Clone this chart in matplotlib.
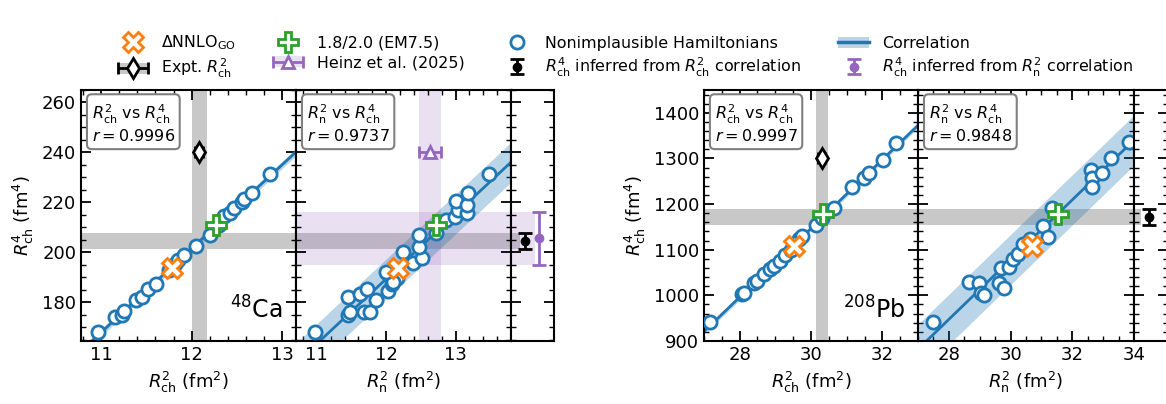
import numpy as np
import matplotlib
matplotlib.use("Agg")
import matplotlib.pyplot as plt
from matplotlib.patches import Patch
from matplotlib.lines import Line2D
from matplotlib.container import ErrorbarContainer
from matplotlib.legend_handler import HandlerTuple, HandlerErrorbar
from matplotlib.ticker import MultipleLocator, AutoMinorLocator

BLUE, ORANGE, GREEN, PURPLE = "#1f77b4", "#ff7f0e", "#2ca02c", "#9467bd"
GREY = "#c8c8c8"

# ---- 48Ca ----
ca_rch2 = [10.97, 11.15, 11.23, 11.25, 11.39, 11.45, 11.52, 11.61, 11.75, 11.82, 11.85,
           11.92, 12.05, 12.20, 12.30, 12.36, 12.42, 12.47, 12.55, 12.58, 12.66, 12.86]
ca_r4_a = [168.0, 174.0, 174.9, 176.5, 180.9, 182.2, 185.3, 187.4, 193.0, 195.5, 196.9,
           198.9, 202.4, 207.0, 211.0, 214.6, 215.8, 217.6, 220.2, 221.2, 223.6, 231.2]
ca_rn2 = [10.97, 11.45, 11.48, 11.68, 11.76, 11.45, 11.62, 11.72, 11.85, 12.03, 12.08,
          12.01, 12.15, 12.10, 12.00, 12.24, 12.39, 12.51, 12.48, 12.48, 12.72, 12.87,
          12.99, 13.04, 13.00, 13.16, 13.16, 13.18, 13.48]
ca_r4_b = [168.0, 174.9, 176.2, 176.2, 176.2, 182.2, 183.2, 185.3, 180.9, 184.5, 187.2,
           191.6, 189.6, 188.2, 192.2, 200.2, 195.6, 197.6, 202.2, 207.0, 207.6, 212.9,
           214.2, 216.9, 220.6, 215.6, 219.0, 223.6, 231.2]
ca_nnlo = (11.78, 12.17, 193.8)      # R2ch, R2n, R4ch
ca_em = (12.27, 12.72, 210.8)
ca_expt_r2 = (12.08, 0.04, 12.0, 12.17)
ca_heinz_rn2 = (12.635, 0.155)
ca_inf_ch = (204.5, 3.3)
ca_inf_n = (205.6, 10.6)
ca_r_vals = ("0.9996", "0.9737")
ca_band = (1.5, 8.0)

# ---- 208Pb ----
pb_rch2 = [27.17, 28.06, 28.13, 28.39, 28.48, 28.67, 28.86, 28.95, 29.14, 29.28, 29.45,
           29.66, 29.75, 30.13, 30.30, 30.64, 31.16, 31.49, 31.63, 32.01, 32.38]
pb_r4_a = [942, 1002, 1006, 1026, 1032, 1047, 1058, 1065, 1076, 1089, 1100,
           1124, 1131, 1154, 1170, 1192, 1238, 1257, 1268, 1297, 1334]
pb_rn2 = [27.50, 28.65, 28.98, 29.03, 29.14, 29.63, 29.80, 29.69, 29.96, 30.07, 30.24,
          30.40, 30.62, 31.06, 31.22, 31.35, 32.61, 32.64, 32.64, 32.97, 33.27, 33.84]
pb_r4_b = [942, 1030, 1027, 1006, 1000, 1028, 1017, 1059, 1063, 1080, 1091,
           1113, 1124, 1151, 1128, 1192, 1275, 1257, 1238, 1268, 1301, 1336]
pb_nnlo = (29.52, 30.70, 1108)
pb_em = (30.34, 31.55, 1179)
pb_expt_r2 = (30.30, 0.10, 30.13, 30.49)
pb_inf_ch = (1172, 17)
pb_r_vals = ("0.9997", "0.9848")
pb_band = (6.0, 55.0)

W, H = 1166, 404
fig = plt.figure(figsize=(W / 100, H / 100), dpi=100)


def add_ax(x0, x1):
    ax = fig.add_axes([x0 / W, (H - 341) / H, (x1 - x0) / W, 251 / H])
    for s in ax.spines.values():
        s.set_linewidth(1.5)
    ax.tick_params(which="both", direction="in", top=True, right=True, labelsize=13)
    ax.tick_params(which="major", length=7, width=1.3)
    ax.tick_params(which="minor", length=3.5, width=1)
    return ax


def corr(ax, xs, ys, band):
    # linear fit through the Hamiltonians, drawn across the whole panel
    k, b = np.polyfit(xs, ys, 1)
    xl = np.array(ax.get_xlim())
    ax.fill_between(xl, k * xl + b - band, k * xl + b + band, color=BLUE, alpha=0.3, lw=0, zorder=2)
    ax.plot(xl, k * xl + b, color=BLUE, lw=2, zorder=2.5)
    ax.set_xlim(xl)
    ax.plot(xs, ys, "o", ms=9.5, mfc="white", mec=BLUE, mew=2, zorder=3)


def rbox(ax, label, r):
    ax.text(0.05, 0.95, label + "\n" + r"$r = $" + r, transform=ax.transAxes, fontsize=11.5,
            va="top", ha="left", zorder=10,
            bbox=dict(boxstyle="round,pad=0.3", fc="white", ec="gray", lw=1.5))


rch_lab = r"$R^2_{\rm ch}$ (fm$^2$)"
rn_lab = r"$R^2_{\rm n}$ (fm$^2$)"
r4_lab = r"$R^4_{\rm ch}$ (fm$^4$)"
box_ch = r"$R^2_{\rm ch}$ vs $R^4_{\rm ch}$"
box_n = r"$R^2_{\rm n}$ vs $R^4_{\rm ch}$"

handles = {}


def nucleus(x0, xlims, ylim, ystep, xstep, d, name):
    (rch2, r4a, rn2, r4b, nnlo, em, expt, heinz, inf_ch, inf_n, rv, band, hband, y_expt) = d
    a1 = add_ax(x0[0], x0[1])
    a2 = add_ax(x0[1], x0[2])
    a3 = add_ax(x0[2], x0[3])
    for a, xl in zip((a1, a2), xlims):
        a.set_xlim(xl)
        a.set_ylim(ylim)
        a.xaxis.set_major_locator(MultipleLocator(xstep))
        a.xaxis.set_minor_locator(AutoMinorLocator())
        a.yaxis.set_major_locator(MultipleLocator(ystep))
        a.yaxis.set_minor_locator(AutoMinorLocator())
    a3.set_xlim(0, 1)
    a3.set_ylim(ylim)
    a3.set_xticks([])
    a3.yaxis.set_major_locator(MultipleLocator(ystep))
    a3.yaxis.set_minor_locator(AutoMinorLocator())
    a2.tick_params(labelleft=False)
    a3.tick_params(labelleft=False)

    # bands
    for a in (a1, a2):
        a.axhspan(hband[0], hband[1], color=GREY, lw=0, zorder=0)
    a3.axhspan(hband[0], hband[1], xmax=0.22, color=GREY, lw=0, zorder=0)
    a1.axvspan(expt[2], expt[3], color=GREY, lw=0, zorder=0)
    if heinz is not None:
        a2.axvspan(heinz[0] - heinz[1], heinz[0] + heinz[1], color=PURPLE, alpha=0.2, lw=0, zorder=1)
        a2.axhspan(inf_n[0] - inf_n[1], inf_n[0] + inf_n[1], color=PURPLE, alpha=0.2, lw=0, zorder=1)
        a3.axhspan(inf_n[0] - inf_n[1], inf_n[0] + inf_n[1], xmax=0.55, color=PURPLE, alpha=0.2, lw=0, zorder=1)

    corr(a1, rch2, r4a, band[0])
    corr(a2, rn2, r4b, band[1])

    for a, xi in ((a1, 0), (a2, 1)):
        a.plot(nnlo[xi], nnlo[2], "X", ms=14, mfc="white", mec=ORANGE, mew=2, zorder=6)
        a.plot(em[xi], em[2], "P", ms=14, mfc="white", mec=GREEN, mew=2, zorder=6)

    eb = a1.errorbar(expt[0], y_expt, xerr=expt[1], fmt="d", ms=10, mfc="white", mec="k", mew=2,
                     color="k", elinewidth=2, capsize=4, capthick=2, zorder=6)
    handles["expt"] = eb
    if heinz is not None:
        hb = a2.errorbar(heinz[0], y_expt, xerr=heinz[1], fmt="^", ms=9, mfc="white", mec=PURPLE,
                         mew=2, color=PURPLE, elinewidth=2, capsize=4, capthick=2, zorder=6)
        handles["heinz"] = hb
        pb_ = a3.errorbar(0.65, inf_n[0], yerr=inf_n[1], fmt="o", ms=6, color=PURPLE,
                          elinewidth=2, capsize=5, capthick=2, zorder=6)
        handles["infn"] = pb_
    bx = 0.33 if heinz is not None else 0.44
    cb = a3.errorbar(bx, inf_ch[0], yerr=inf_ch[1], fmt="o", ms=6, color="k",
                     elinewidth=2, capsize=5, capthick=2, zorder=6)
    handles["infch"] = cb

    rbox(a1, box_ch, rv[0])
    rbox(a2, box_n, rv[1])
    a1.text(0.94, 0.07, name, transform=a1.transAxes, fontsize=17, ha="right", va="bottom")
    a1.set_xlabel(rch_lab, fontsize=13)
    a2.set_xlabel(rn_lab, fontsize=13)
    a1.set_ylabel(r4_lab, fontsize=13)


ca_data = (ca_rch2, ca_r4_a, ca_rn2, ca_r4_b, ca_nnlo, ca_em, ca_expt_r2, ca_heinz_rn2,
           ca_inf_ch, ca_inf_n, ca_r_vals, ca_band, (201.3, 207.8), 240)
nucleus((81, 296, 511, 554), ((10.78, 13.15), (10.7, 13.8)), (164.5, 265), 20, 1, ca_data,
        r"$^{48}$Ca")

pb_data = (pb_rch2, pb_r4_a, pb_rn2, pb_r4_b, pb_nnlo, pb_em, pb_expt_r2, None,
           pb_inf_ch, None, pb_r_vals, pb_band, (1155, 1190), 1300)
nucleus((704, 918, 1134, 1168), ((27, 33), (27, 34)), (900, 1450), 100, 2, pb_data,
        r"$^{208}$Pb")

h_nnlo = Line2D([], [], ls="none", marker="X", ms=14, mfc="white", mec=ORANGE, mew=2)
h_em = Line2D([], [], ls="none", marker="P", ms=14, mfc="white", mec=GREEN, mew=2)
h_ham = Line2D([], [], ls="none", marker="o", ms=9.5, mfc="white", mec=BLUE, mew=2)
h_corr = (Patch(color=BLUE, alpha=0.3, lw=0), Line2D([], [], color=BLUE, lw=2.5))
h_expt = (Patch(color=GREY, lw=0), handles["expt"])
h_heinz = (Patch(color=PURPLE, alpha=0.2, lw=0), handles["heinz"])

leg_h = [h_nnlo, h_expt, h_em, h_heinz, h_ham, handles["infch"], h_corr, handles["infn"]]
leg_l = [r"$\Delta$NNLO$_{\rm GO}$", r"Expt. $R^2_{\rm ch}$", "1.8/2.0 (EM7.5)",
         "Heinz et al. (2025)", "Nonimplausible Hamiltonians",
         r"$R^4_{\rm ch}$ inferred from $R^2_{\rm ch}$ correlation", "Correlation",
         r"$R^4_{\rm ch}$ inferred from $R^2_{\rm n}$ correlation"]
fig.legend(leg_h, leg_l, ncol=4, loc="center", bbox_to_anchor=(0.536, 0.859), frameon=False,
           fontsize=11.4,
           handler_map={tuple: HandlerTuple(ndivide=1, pad=0),
                        ErrorbarContainer: HandlerErrorbar(xerr_size=0.95, yerr_size=0.5)},
           columnspacing=2.3, handletextpad=0.8, labelspacing=0.3)

fig.savefig("out.png", dpi=100)
